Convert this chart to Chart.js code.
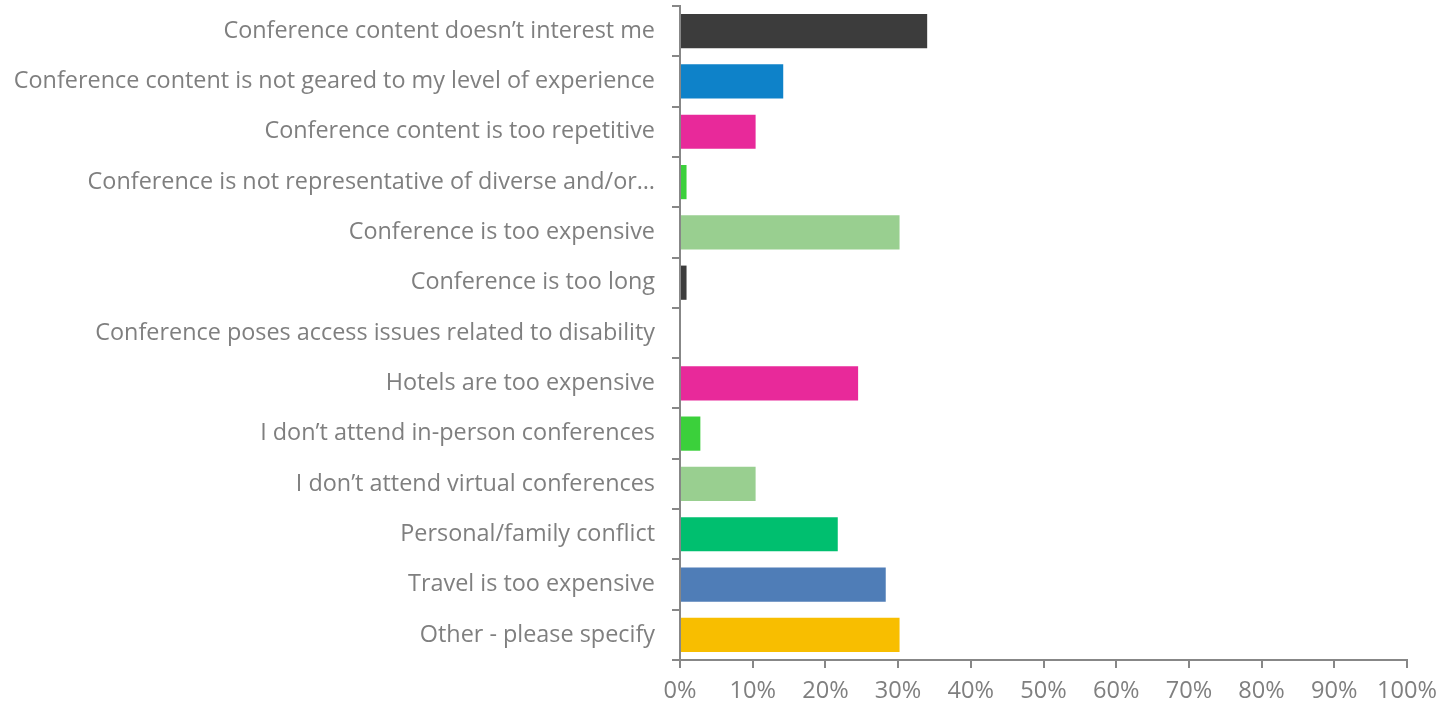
<!DOCTYPE html>
<html>
<head>
<meta charset="utf-8">
<script src="https://cdn.jsdelivr.net/npm/chart.js@4"></script>
<style>
  html, body { margin: 0; padding: 0; background: #fff; }
  #wrap { width: 1447px; height: 705px; }
</style>
</head>
<body>
<div id="wrap"><canvas id="reasonsChart"></canvas></div>
<script>
// categories, top to bottom
const reasons = [
  'Conference content doesn\u2019t interest me',
  'Conference content is not geared to my level of experience',
  'Conference content is too repetitive',
  'Conference is not representative of diverse and/or\u2026',
  'Conference is too expensive',
  'Conference is too long',
  'Conference poses access issues related to disability',
  'Hotels are too expensive',
  'I don\u2019t attend in-person conferences',
  'I don\u2019t attend virtual conferences',
  'Personal/family conflict',
  'Travel is too expensive',
  'Other - please specify'
];
// share of respondents, percent
const shares = [34.0, 14.2, 10.4, 0.9, 30.2, 0.9, 0, 24.5, 2.8, 10.4, 21.7, 28.3, 30.2];
const barColors = [
  '#3c3c3c', '#0e82c9', '#e8299a', '#3bd03b', '#99cf90',
  '#3c3c3c', '#0e82c9', '#e8299a', '#3bd03b', '#99cf90',
  '#00bf6f', '#4f7db7', '#f8be00'
];
const xTicks = [0, 10, 20, 30, 40, 50, 60, 70, 80, 90, 100];

const axisGray = '#878787';
const textGray = '#7f7f7f';
const fontFamily = '"Open Sans", Lato, sans-serif';

const ctx = document.getElementById('reasonsChart').getContext('2d');
const reasonsChart = new Chart(ctx, {
  type: 'bar',
  data: {
    labels: reasons,
    datasets: [{
      data: shares,
      backgroundColor: barColors,
      borderWidth: 0,
      barPercentage: 0.68,
      categoryPercentage: 1.0
    }]
  },
  options: {
    indexAxis: 'y',
    responsive: true,
    maintainAspectRatio: false,
    animation: false,
    layout: { padding: { top: 6, right: 40, left: 0, bottom: 0 } },
    plugins: {
      legend: { display: false },
      tooltip: { enabled: false }
    },
    scales: {
      x: {
        min: 0,
        max: 100,
        afterBuildTicks: (scale) => { scale.ticks = xTicks.map(v => ({ value: v })); },
        afterFit: (scale) => { scale.height = 45; },
        ticks: {
          color: textGray,
          font: { family: fontFamily, size: 23.6 },
          padding: 9,
          maxRotation: 0,
          callback: (v) => v + '%'
        },
        grid: {
          drawOnChartArea: false,
          drawTicks: true,
          tickLength: 8,
          color: axisGray,
          lineWidth: 2
        },
        border: { display: true, color: axisGray, width: 2 }
      },
      y: {
        afterFit: (scale) => {
          scale.width = 680;
          scale.paddingTop = 0;
          scale.paddingBottom = 0;
        },
        ticks: {
          color: textGray,
          font: { family: fontFamily, size: 23.4 },
          padding: 17,
          autoSkip: false
        },
        grid: {
          drawOnChartArea: false,
          drawTicks: true,
          tickLength: 8,
          color: axisGray,
          lineWidth: 2,
          offset: true
        },
        border: { display: true, color: axisGray, width: 2 }
      }
    }
  }
});
</script>
</body>
</html>
